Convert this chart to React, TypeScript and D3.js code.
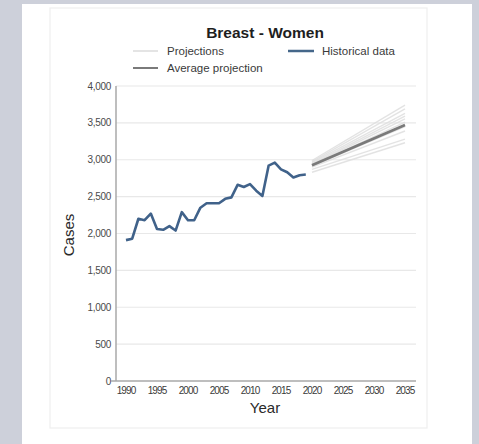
import React from "react";
import * as d3 from "d3";

// Historical annual case counts
const histYears = [
  1990, 1991, 1992, 1993, 1994, 1995, 1996, 1997, 1998, 1999,
  2000, 2001, 2002, 2003, 2004, 2005, 2006, 2007, 2008, 2009,
  2010, 2011, 2012, 2013, 2014, 2015, 2016, 2017, 2018, 2019,
];
const histCases = [
  1910, 1930, 2200, 2180, 2270, 2060, 2050, 2100, 2040, 2290,
  2180, 2180, 2350, 2410, 2410, 2410, 2470, 2490, 2660, 2630,
  2670, 2580, 2510, 2920, 2960, 2870, 2830, 2760, 2790, 2800,
];

// Individual projection runs: value in the first and last projected year
const projYears = [2020, 2035];
const projStart = [2990, 2975, 2960, 2945, 2935, 2925, 2915, 2900, 2870, 2830];
const projEnd = [3740, 3690, 3630, 3590, 3555, 3510, 3450, 3390, 3280, 3230];

// Average of the projection runs
const avgProjection = [2925, 3470];

const xTicks = [1990, 1995, 2000, 2005, 2010, 2015, 2020, 2025, 2030, 2035];
const yTicks = [0, 500, 1000, 1500, 2000, 2500, 3000, 3500, 4000];

const W = 479;
const H = 444;
const FONT = "'Liberation Sans', Arial, Helvetica, sans-serif";

export default function App() {
  const x = d3.scaleLinear().domain([1990, 2035]).range([126, 405]);
  const y = d3.scaleLinear().domain([0, 4000]).range([381, 86]);
  const axisLeft = 116;
  const axisRight = 416;

  const line = d3
    .line<[number, number]>()
    .x((d) => x(d[0]))
    .y((d) => y(d[1]));

  const hist = line(histYears.map((yr, i) => [yr, histCases[i]] as [number, number])) || "";
  const projPaths = projStart.map(
    (s, i) =>
      line([
        [projYears[0], s],
        [projYears[1], projEnd[i]],
      ]) || ""
  );
  const avgPath =
    line(projYears.map((yr, i) => [yr, avgProjection[i]] as [number, number])) || "";

  const fmt = d3.format(",");

  return (
    <svg
      width={W}
      height={H}
      style={{ position: "absolute", left: 0, top: 0 }}
      fontFamily={FONT}
    >
      <rect x={0} y={0} width={W} height={H} fill="#cdd0da" />
      <rect x={22} y={4} width={450} height={H - 4} fill="#ffffff" />
      <rect x={50} y={8} width={377} height={420} fill="#ffffff" stroke="#efefef" strokeWidth={1.2} />

      {/* title */}
      <text x={265} y={38} textAnchor="middle" fontSize={15.5} fontWeight="bold" fill="#1e1e1e">
        Breast - Women
      </text>

      {/* legend */}
      <line x1={133} x2={158} y1={51} y2={51} stroke="#e4e4e4" strokeWidth={2} />
      <text x={167} y={55} fontSize={11.5} fill="#3a3a3a">Projections</text>
      <line x1={288} x2={314} y1={51} y2={51} stroke="#45678a" strokeWidth={2.5} />
      <text x={322} y={55} fontSize={11.5} fill="#3a3a3a">Historical data</text>
      <line x1={133} x2={158} y1={68} y2={68} stroke="#7a7a7a" strokeWidth={2} />
      <text x={167} y={72} fontSize={11.5} fill="#3a3a3a">Average projection</text>

      {/* gridlines and y labels */}
      {yTicks.map((t) => (
        <g key={t}>
          {t > 0 && (
            <line x1={axisLeft} x2={axisRight} y1={y(t)} y2={y(t)} stroke="#e8e8e8" strokeWidth={1.2} />
          )}
          <text
            x={111}
            y={y(t)}
            dy="0.35em"
            textAnchor="end"
            fontSize={10}
            fill="#4a4a4a"
            letterSpacing={-0.3}
          >
            {fmt(t)}
          </text>
        </g>
      ))}

      {/* axes */}
      <line x1={axisLeft} x2={axisLeft} y1={y(4000)} y2={y(0)} stroke="#a8a8a8" strokeWidth={1.5} />
      <line x1={axisLeft - 5} x2={axisRight} y1={y(0)} y2={y(0)} stroke="#a8a8a8" strokeWidth={1.5} />

      {xTicks.map((t) => (
        <text
          key={t}
          x={x(t)}
          y={394}
          textAnchor="middle"
          fontSize={10}
          fill="#3a3a3a"
          letterSpacing={-0.9}
        >
          {t}
        </text>
      ))}

      {/* axis titles */}
      <text x={265} y={413} textAnchor="middle" fontSize={15} fill="#2a2a2a">
        Year
      </text>
      <text
        transform="translate(74,235) rotate(-90)"
        textAnchor="middle"
        fontSize={15}
        fill="#2a2a2a"
      >
        Cases
      </text>

      {/* projections */}
      {projPaths.map((d, i) => (
        <path key={i} d={d} fill="none" stroke="#dedede" strokeWidth={1.4} opacity={0.85} />
      ))}
      <path d={avgPath} fill="none" stroke="#7a7a7a" strokeWidth={2.8} />

      {/* historical */}
      <path d={hist} fill="none" stroke="#40628a" strokeWidth={2.6} strokeLinejoin="round" />
    </svg>
  );
}
